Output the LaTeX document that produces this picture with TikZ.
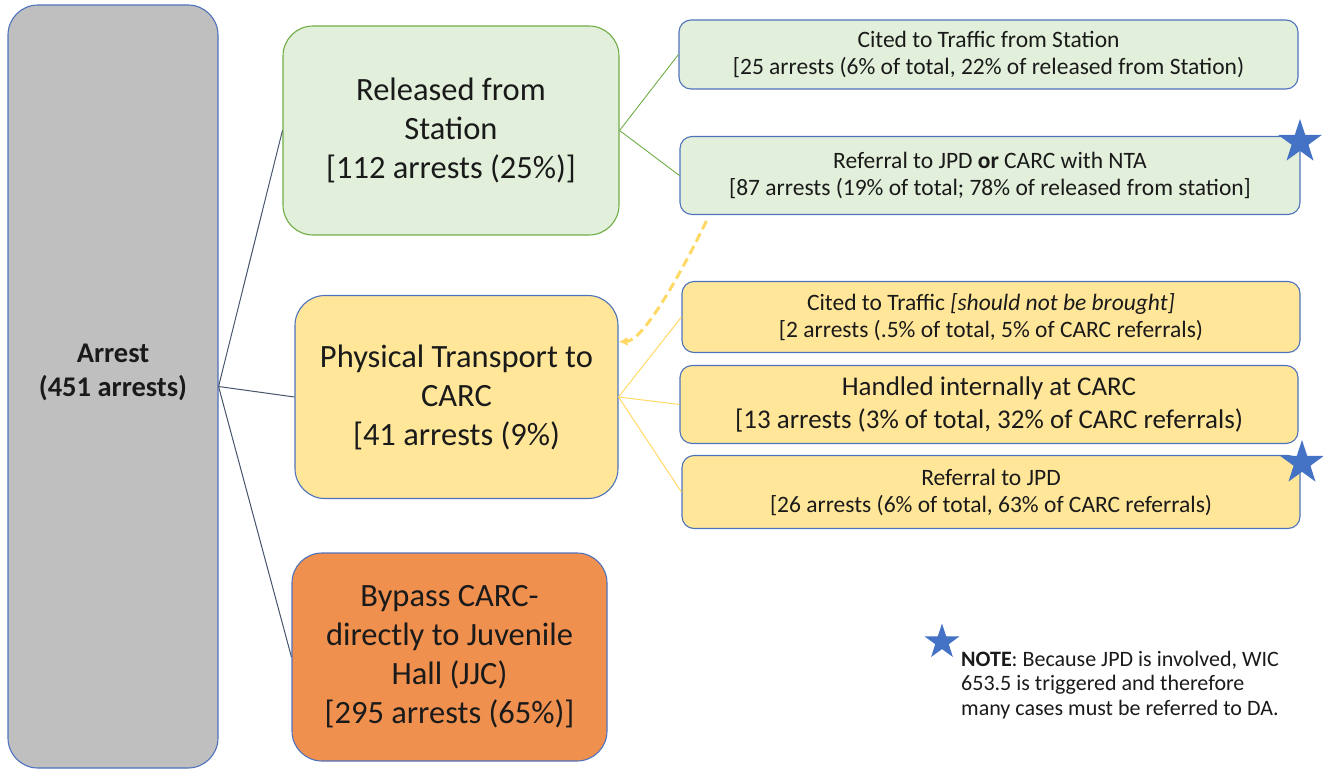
\documentclass[tikz,border=0pt]{standalone}
\usepackage{fontspec}
\setmainfont{Carlito}
\usetikzlibrary{shapes.geometric,arrows.meta}
\definecolor{bblue}{HTML}{4F72BD}
\definecolor{gfill}{HTML}{BFBFBF}
\definecolor{greenfill}{HTML}{E2EFDA}
\definecolor{greenline}{HTML}{70AD47}
\definecolor{yfill}{HTML}{FFE699}
\definecolor{yline}{HTML}{FFD966}
\definecolor{ofill}{HTML}{F0904F}
\definecolor{darkline}{HTML}{44546A}
\definecolor{starblue}{HTML}{4472C4}
\definecolor{txt}{HTML}{1A1A1A}
\begin{document}
\begin{tikzpicture}[x=1pt,y=-1pt,
  box/.style={draw=bblue, line width=1.1pt, inner sep=0pt, align=center, text=txt},
  bigbox/.style={box, rounded corners=30pt, font=\fontsize{32.5}{39}\selectfont},
  smallbox/.style={box, rounded corners=12pt},
  smallfont/.style={font=\fontsize{23.5}{27}\selectfont},
  midfont/.style={font=\fontsize{27}{33}\selectfont},
  trunk/.style={draw=darkline, line width=1pt},
  gconn/.style={draw=greenline, line width=0.9pt},
  yconn/.style={draw=yline, line width=1pt},
  dashconn/.style={draw=yline, line width=3pt, dash pattern=on 9pt off 5pt, -{Latex[length=9pt,width=9pt]}},
  starnode/.style={star, star points=5, star point ratio=2.6, fill=starblue, inner sep=0pt}
]
\useasboundingbox (0,0) rectangle (1323,771);

\node[bigbox, fill=gfill, minimum width=210pt, minimum height=763pt] (arrest) at (113,386.5) {};
\node[inner sep=0pt, align=center, text=txt, font=\fontsize{28.5}{34}\selectfont\bfseries] (arresttext) at (113,372)
  {Arrest\\(451 arrests)};

\node[bigbox, fill=greenfill, draw=greenline, minimum width=336pt, minimum height=209pt] (released) at (451,130.5)
  {Released from\\Station\\{}[112 arrests (25\%)]};
\node[bigbox, fill=yfill, minimum width=323pt, minimum height=203pt] (physical) at (456.5,397)
  {Physical Transport to\\CARC\\{}[41 arrests (9\%)};
\node[bigbox, fill=ofill, minimum width=315pt, minimum height=208pt] (bypass) at (449.5,657)
  {Bypass CARC-\\directly to Juvenile\\Hall (JJC)\\{}[295 arrests (65\%)]};

\node[smallbox, smallfont, fill=greenfill, minimum width=619pt, minimum height=69pt] (cited1) at (988.5,54.5)
  {Cited to Traffic from Station\\{}[25 arrests (6\% of total, 22\% of released from Station)};
\node[smallbox, smallfont, fill=greenfill, minimum width=620pt, minimum height=78pt] (ref1) at (990,175.5)
  {Referral to JPD \textbf{or} CARC with NTA\\{}[87 arrests (19\% of total; 78\% of released from station]};

\node[smallbox, smallfont, fill=yfill, minimum width=618pt, minimum height=71pt] (cited2) at (991,317)
  {Cited to Traffic \textit{[should not be brought]}\\{}[2 arrests (.5\% of total, 5\% of CARC referrals)};
\node[smallbox, midfont, fill=yfill, minimum width=618pt, minimum height=78pt] (handled) at (989,404.5)
  {Handled internally at CARC\\{}[13 arrests (3\% of total, 32\% of CARC referrals)};
\node[smallbox, smallfont, fill=yfill, minimum width=618pt, minimum height=73pt] (ref2) at (991,492)
  {Referral to JPD\\{}[26 arrests (6\% of total, 63\% of CARC referrals)};

\draw[trunk] (arrest.east) -- (released.west);
\draw[trunk] (arrest.east) -- (physical.west);
\draw[trunk] (arrest.east) -- (bypass.west);

\draw[gconn] (released.east) -- (cited1.west);
\draw[gconn] (released.east) -- (ref1.west);

\draw[yconn] (physical.east) -- (cited2.west);
\draw[yconn] (physical.east) -- (handled.west);
\draw[yconn] (physical.east) -- (ref2.west);

\coordinate (dstart) at ([xshift=27pt,yshift=-6pt]ref1.south west);
\coordinate (dend) at ([yshift=55pt]physical.east);
\draw[dashconn] (dstart) .. controls (685,265) and (645,340) .. (dend);

\node[starnode, minimum size=46pt] (star1) at (1300,142) {};
\node[starnode, minimum size=46pt] (star2) at (1302,463) {};
\node[starnode, minimum size=37pt] (star3) at (942,642) {};

\node[anchor=north west, align=left, inner sep=0pt, text=txt,
      font=\fontsize{22}{24.5}\selectfont] (note) at (961,651)
  {\textbf{NOTE}: Because JPD is involved, WIC\\653.5 is triggered and therefore\\many cases must be referred to DA.};
\end{tikzpicture}
\end{document}
